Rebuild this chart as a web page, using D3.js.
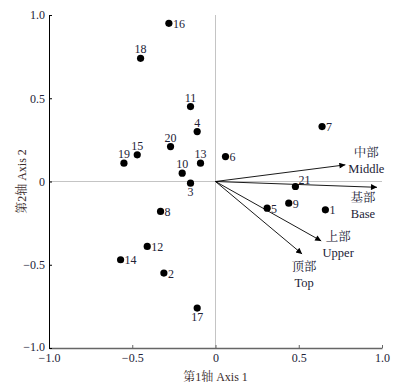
<!DOCTYPE html>
<html>
<head>
<meta charset="utf-8">
<script src="https://cdn.jsdelivr.net/npm/d3@7"></script>
<style>
  body { margin: 0; background: #fff; }
  svg text { font-family: "Liberation Serif", "Noto Serif CJK SC", "Noto Sans CJK SC", serif; }
</style>
</head>
<body>
<svg id="chart" width="409" height="385"></svg>
<script>
  // sample scores on axis 1 / axis 2
  var ids = ['1', '2', '3', '4', '5', '6', '7', '8', '9', '10', '11',
    '12', '13', '14', '15', '16', '17', '18', '19', '20', '21'];
  var axis1 = [0.66, -0.31, -0.15, -0.11, 0.31, 0.06, 0.64, -0.33, 0.44, -0.20, -0.15,
    -0.41, -0.09, -0.57, -0.47, -0.28, -0.11, -0.45, -0.55, -0.27, 0.48];
  var axis2 = [-0.17, -0.55, -0.01, 0.30, -0.16, 0.15, 0.33, -0.18, -0.13, 0.05, 0.45,
    -0.39, 0.11, -0.47, 0.16, 0.95, -0.76, 0.74, 0.11, 0.21, -0.03];
  var labelSide = ['right', 'right', 'below', 'above', 'right', 'right', 'right', 'right', 'right', 'above', 'above',
    'right', 'above', 'right', 'above', 'right', 'below', 'above', 'above', 'above', 'upright'];

  // environmental vectors (crown position)
  var vecZh = ['中部', '基部', '上部', '顶部'];
  var vecEn = ['Middle', 'Base', 'Upper', 'Top'];
  var vecX = [0.78, 0.97, 0.635, 0.52];
  var vecY = [0.10, -0.035, -0.357, -0.435];
  var vecLabelOffset = [[21, -8], [-14, 15], [17, 0], [2, 17]];

  var ticks = [-1, -0.5, 0, 0.5, 1];

  var svg = d3.select('#chart'),
    textColor = '#222236',
    x = d3.scaleLinear().domain([-1, 1]).range([49, 382]),
    y = d3.scaleLinear().domain([-1, 1]).range([348, 15]),
    fmt = function (d) { return d === 0 ? '0' : d3.format('.1f')(d); };

  svg.append('defs').append('marker')
    .attr('id', 'head')
    .attr('viewBox', '0 0 10 10')
    .attr('refX', 10)
    .attr('refY', 5)
    .attr('markerWidth', 8)
    .attr('markerHeight', 6)
    .attr('markerUnits', 'userSpaceOnUse')
    .attr('orient', 'auto')
    .append('path')
    .attr('d', 'M0,0L10,5L0,10Z')
    .attr('fill', '#000');

  // zero reference lines
  svg.append('line')
    .attr('x1', x(-1)).attr('x2', x(1))
    .attr('y1', y(0)).attr('y2', y(0))
    .attr('stroke', '#c4c4c4');
  svg.append('line')
    .attr('x1', x(0)).attr('x2', x(0))
    .attr('y1', y(1)).attr('y2', y(-1))
    .attr('stroke', '#c4c4c4');

  var gx = svg.append('g')
    .attr('transform', 'translate(0,' + y(-1) + ')')
    .call(d3.axisBottom(x).tickValues(ticks).tickFormat(fmt).tickSizeInner(-3).tickSizeOuter(0).tickPadding(5));
  gx.select('.domain').attr('stroke', '#666').attr('stroke-width', 1.6);
  gx.selectAll('.tick line').attr('stroke', '#666');
  gx.selectAll('text').attr('font-size', 12).attr('fill', textColor);

  var gy = svg.append('g')
    .attr('transform', 'translate(' + x(-1) + ',0)')
    .call(d3.axisLeft(y).tickValues(ticks).tickFormat(fmt).tickSizeInner(-3).tickSizeOuter(0).tickPadding(4));
  gy.select('.domain').attr('stroke', '#000');
  gy.selectAll('text').attr('font-size', 12).attr('fill', textColor);
  gy.selectAll('.tick').filter(function (d) { return d === -1; }).select('text').attr('dy', '0.2em');

  svg.append('text')
    .attr('x', x(0))
    .attr('y', 381)
    .attr('text-anchor', 'middle')
    .attr('font-size', 12)
    .attr('fill', '#3a2a2a')
    .text('第1轴 Axis 1');

  svg.append('text')
    .attr('transform', 'translate(26,' + y(0) + ') rotate(-90)')
    .attr('text-anchor', 'middle')
    .attr('font-size', 12)
    .attr('fill', '#3a2a2a')
    .text('第2轴 Axis 2');

  // vectors
  var vec = svg.append('g').selectAll('g')
    .data(vecZh)
    .enter().append('g');

  vec.append('line')
    .attr('x1', x(0))
    .attr('y1', y(0))
    .attr('x2', function (d, i) { return x(vecX[i]); })
    .attr('y2', function (d, i) { return y(vecY[i]); })
    .attr('stroke', '#000')
    .attr('stroke-width', 0.9)
    .attr('marker-end', 'url(#head)');

  vec.append('text')
    .attr('x', function (d, i) { return x(vecX[i]) + vecLabelOffset[i][0]; })
    .attr('y', function (d, i) { return y(vecY[i]) + vecLabelOffset[i][1]; })
    .attr('text-anchor', 'middle')
    .attr('font-size', 12.5)
    .attr('fill', textColor)
    .text(function (d) { return d; });

  vec.append('text')
    .attr('x', function (d, i) { return x(vecX[i]) + vecLabelOffset[i][0]; })
    .attr('y', function (d, i) { return y(vecY[i]) + vecLabelOffset[i][1] + 16; })
    .attr('text-anchor', 'middle')
    .attr('font-size', 12.5)
    .attr('fill', textColor)
    .text(function (d, i) { return vecEn[i]; });

  // sample points
  var pts = svg.append('g').selectAll('g')
    .data(ids)
    .enter().append('g')
    .attr('transform', function (d, i) {
      return 'translate(' + x(axis1[i]) + ',' + y(axis2[i]) + ')';
    });

  pts.append('circle')
    .attr('r', 3.6)
    .attr('fill', '#000');

  pts.append('text')
    .attr('font-size', 12)
    .attr('fill', textColor)
    .attr('text-anchor', function (d, i) {
      return labelSide[i] === 'above' || labelSide[i] === 'below' ? 'middle' : 'start';
    })
    .attr('x', function (d, i) {
      if (labelSide[i] === 'right') return 4;
      if (labelSide[i] === 'upright') return 3;
      return 0;
    })
    .attr('y', function (d, i) {
      if (labelSide[i] === 'above') return -5;
      if (labelSide[i] === 'below') return 13;
      if (labelSide[i] === 'upright') return -2;
      return 4.5;
    })
    .text(function (d) { return d; });
</script>
</body>
</html>
